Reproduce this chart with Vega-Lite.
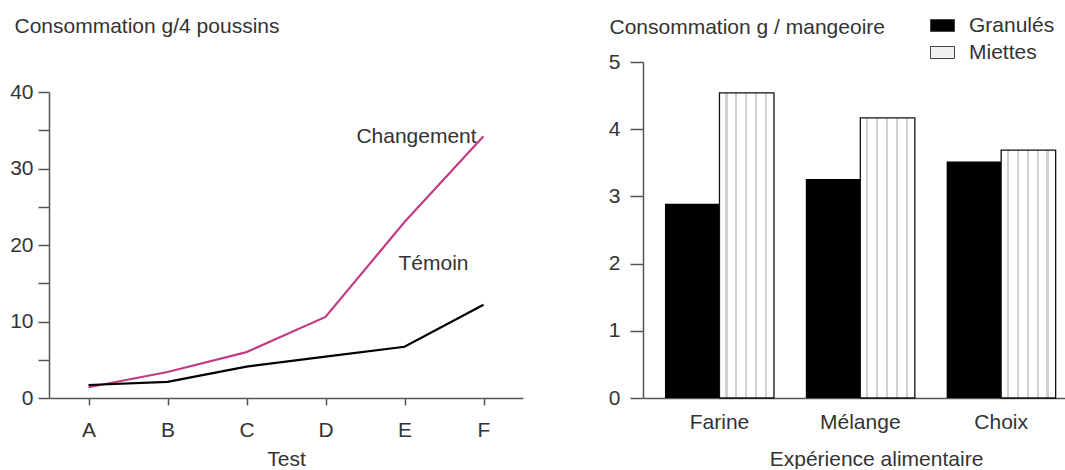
{
  "$schema": "https://vega.github.io/schema/vega-lite/v6.json",
  "padding": {"left": 9, "top": 13, "right": 0, "bottom": 0},
  "background": "white",
  "datasets": {
    "lines": [
      {"test": "A", "serie": "Changement", "conso": 1.4},
      {"test": "B", "serie": "Changement", "conso": 3.4},
      {"test": "C", "serie": "Changement", "conso": 6.0},
      {"test": "D", "serie": "Changement", "conso": 10.6},
      {"test": "E", "serie": "Changement", "conso": 23.0},
      {"test": "F", "serie": "Changement", "conso": 34.2},
      {"test": "A", "serie": "Témoin", "conso": 1.7},
      {"test": "B", "serie": "Témoin", "conso": 2.1},
      {"test": "C", "serie": "Témoin", "conso": 4.1},
      {"test": "D", "serie": "Témoin", "conso": 5.4},
      {"test": "E", "serie": "Témoin", "conso": 6.7},
      {"test": "F", "serie": "Témoin", "conso": 12.2}
    ],
    "labels": [
      {"test": "E", "serie": "Changement", "conso": 33.3},
      {"test": "E", "serie": "Témoin", "conso": 16.7}
    ],
    "bars": [
      {"exp": "Farine", "type": "Granulés", "conso": 2.89},
      {"exp": "Farine", "type": "Miettes", "conso": 4.54},
      {"exp": "Mélange", "type": "Granulés", "conso": 3.26},
      {"exp": "Mélange", "type": "Miettes", "conso": 4.17},
      {"exp": "Choix", "type": "Granulés", "conso": 3.52},
      {"exp": "Choix", "type": "Miettes", "conso": 3.69}
    ]
  },
  "spacing": 120,
  "bounds": "flush",
  "hconcat": [
    {
      "width": 474,
      "height": 336,
      "data": {"name": "lines"},
      "layer": [
        {
          "mark": {"type": "line", "strokeWidth": 2.2},
          "encoding": {
            "x": {
              "field": "test",
              "type": "ordinal",
              "scale": {"type": "point", "padding": 0.5},
              "axis": {
                "title": "Test",
                "labelAngle": 0,
                "tickSize": 7,
                "labelPadding": 14,
                "titleY": 67,
                "titleBaseline": "alphabetic"
              }
            },
            "y": {
              "field": "conso",
              "type": "quantitative",
              "scale": {"domain": [0, 40], "range": [336, 30], "nice": false},
              "axis": {
                "values": [0, 5, 10, 15, 20, 25, 30, 35, 40],
                "labelExpr": "datum.value % 10 === 0 ? datum.label : ''",
                "tickSize": 11,
                "labelPadding": 5,
                "title": "Consommation g/4 poussins",
                "titleAngle": 0,
                "titleAlign": "left",
                "titleBaseline": "alphabetic",
                "titleX": -35,
                "titleY": -30
              }
            },
            "color": {
              "field": "serie",
              "type": "nominal",
              "scale": {"domain": ["Témoin", "Changement"], "range": ["#000000", "#c23b84"]},
              "legend": null
            }
          }
        },
        {
          "data": {"name": "labels"},
          "transform": [{"filter": "datum.serie === 'Changement'"}],
          "mark": {"type": "text", "dx": 12, "align": "center", "baseline": "alphabetic", "fontSize": 21, "color": "#333333"},
          "encoding": {
            "x": {"field": "test", "type": "ordinal"},
            "y": {"field": "conso", "type": "quantitative"},
            "text": {"field": "serie"}
          }
        },
        {
          "data": {"name": "labels"},
          "transform": [{"filter": "datum.serie === 'Témoin'"}],
          "mark": {"type": "text", "dx": 29, "align": "center", "baseline": "alphabetic", "fontSize": 21, "color": "#333333"},
          "encoding": {
            "x": {"field": "test", "type": "ordinal"},
            "y": {"field": "conso", "type": "quantitative"},
            "text": {"field": "serie"}
          }
        }
      ]
    },
    {
      "width": 423,
      "height": 336,
      "data": {"name": "bars"},
      "encoding": {
        "x": {
          "field": "exp",
          "type": "nominal",
          "sort": ["Farine", "Mélange", "Choix"],
          "scale": {"paddingInner": 0.226, "paddingOuter": 0.1147, "align": 0.68},
          "axis": {
            "title": "Expérience alimentaire",
            "labelAngle": 0,
            "ticks": false,
            "tickSize": 0,
            "labelPadding": 13,
            "titleX": 233,
            "titleY": 67,
            "titleBaseline": "alphabetic"
          }
        },
        "xOffset": {"field": "type", "type": "nominal", "sort": ["Granulés", "Miettes"]},
        "y": {
          "field": "conso",
          "type": "quantitative",
          "scale": {"domain": [0, 5], "nice": false},
          "axis": {
            "values": [0, 1, 2, 3, 4, 5],
            "tickSize": 13,
            "labelPadding": 10,
            "title": "Consommation g / mangeoire",
            "titleAngle": 0,
            "titleAlign": "left",
            "titleBaseline": "alphabetic",
            "titleX": -34,
            "titleY": -29
          }
        }
      },
      "layer": [
        {
          "mark": {"type": "bar"},
          "encoding": {
            "fill": {
              "field": "type",
              "type": "nominal",
              "sort": ["Granulés", "Miettes"],
              "scale": {"range": ["#000000", "#f0f0f0"]},
              "legend": {
                "title": null,
                "orient": "none",
                "legendX": 881,
                "legendY": -49,
                "direction": "vertical",
                "symbolType": "M-1,-0.5H1V0.5H-1Z",
                "symbolSize": 576,
                "symbolStrokeColor": "#444444",
                "symbolStrokeWidth": 1,
                "labelFontSize": 21,
                "labelColor": "#333333",
                "labelOffset": 14,
                "rowPadding": 4,
                "padding": 0
              }
            }
          }
        },
        {
          "transform": [{"filter": "datum.type === 'Miettes'"}],
          "mark": {
            "type": "bar",
            "stroke": "#111111",
            "strokeWidth": 1.3,
            "fill": {
              "gradient": "linear",
              "x1": 0, "y1": 0, "x2": 1, "y2": 0,
              "stops": [
                {"offset": 0, "color": "#ffffff"},
                {"offset": 0.11, "color": "#ffffff"},
                {"offset": 0.11, "color": "#d0d0d0"},
                {"offset": 0.15, "color": "#d0d0d0"},
                {"offset": 0.15, "color": "#ffffff"},
                {"offset": 0.29, "color": "#ffffff"},
                {"offset": 0.29, "color": "#d0d0d0"},
                {"offset": 0.33, "color": "#d0d0d0"},
                {"offset": 0.33, "color": "#ffffff"},
                {"offset": 0.47, "color": "#ffffff"},
                {"offset": 0.47, "color": "#d0d0d0"},
                {"offset": 0.51, "color": "#d0d0d0"},
                {"offset": 0.51, "color": "#ffffff"},
                {"offset": 0.65, "color": "#ffffff"},
                {"offset": 0.65, "color": "#d0d0d0"},
                {"offset": 0.69, "color": "#d0d0d0"},
                {"offset": 0.69, "color": "#ffffff"},
                {"offset": 0.83, "color": "#ffffff"},
                {"offset": 0.83, "color": "#d0d0d0"},
                {"offset": 0.87, "color": "#d0d0d0"},
                {"offset": 0.87, "color": "#ffffff"},
                {"offset": 1, "color": "#ffffff"}
              ]
            }
          }
        }
      ]
    }
  ],
  "config": {
    "font": "Liberation Sans",
    "view": {"stroke": null},
    "axis": {
      "grid": false,
      "labelFont": "Liberation Sans",
      "titleFont": "Liberation Sans",
      "labelFontSize": 21,
      "titleFontSize": 21,
      "titleFontWeight": "normal",
      "labelColor": "#333333",
      "titleColor": "#333333",
      "domainColor": "#555555",
      "tickColor": "#555555",
      "domainWidth": 1.5,
      "tickWidth": 1.5
    },
    "legend": {"labelFont": "Liberation Sans"}
  }
}
